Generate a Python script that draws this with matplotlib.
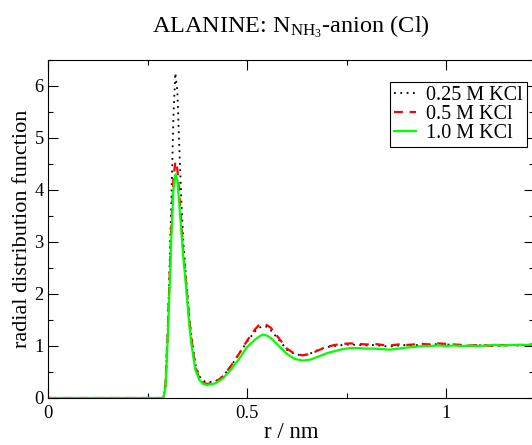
import numpy as np
import matplotlib
matplotlib.use("Agg")
import matplotlib.pyplot as plt
from matplotlib.ticker import MultipleLocator

plt.rcParams['font.family'] = ['Liberation Serif', 'DejaVu Serif']
plt.rcParams['mathtext.fontset'] = 'custom'
plt.rcParams['mathtext.rm'] = 'Liberation Serif'
plt.rcParams['mathtext.it'] = 'Liberation Serif:italic'

# radial distribution functions
r = [0.0, 0.28, 0.29, 0.295, 0.30, 0.305, 0.31, 0.315, 0.32, 0.325, 0.33, 0.335,
     0.34, 0.345, 0.35, 0.355, 0.36, 0.37, 0.38, 0.39, 0.40, 0.42, 0.44, 0.46,
     0.48, 0.50, 0.52, 0.53, 0.54, 0.55, 0.56, 0.58, 0.60, 0.62, 0.64, 0.66,
     0.68, 0.70, 0.72, 0.74, 0.76, 0.78, 0.80, 0.82, 0.84, 0.86, 0.88, 0.90,
     0.92, 0.94, 0.96, 0.98, 1.00, 1.02, 1.04, 1.06, 1.08, 1.10, 1.12, 1.14,
     1.16, 1.18, 1.20, 1.22]

g_025 = [0.0, 0.0, 0.0, 0.25, 1.1, 2.4, 3.8, 5.4, 6.25, 5.9, 4.8, 3.8,
         3.0, 2.5, 2.0, 1.55, 1.2, 0.65, 0.42, 0.33, 0.30, 0.32, 0.42, 0.62,
         0.85, 1.08, 1.28, 1.35, 1.38, 1.37, 1.30, 1.12, 0.93, 0.84, 0.82, 0.86,
         0.93, 0.98, 1.00, 1.02, 1.03, 1.02, 1.01, 1.02, 1.00, 0.99, 1.01, 1.02,
         1.01, 1.03, 1.02, 1.04, 1.03, 1.02, 1.01, 1.00, 1.01, 1.02, 1.00, 1.01,
         1.02, 1.01, 1.02, 1.03]

g_05 = [0.0, 0.0, 0.0, 0.25, 1.1, 2.2, 3.3, 4.2, 4.55, 4.4, 3.9, 3.35,
        2.8, 2.4, 1.95, 1.5, 1.15, 0.6, 0.38, 0.29, 0.27, 0.30, 0.42, 0.62,
        0.85, 1.10, 1.32, 1.40, 1.42, 1.40, 1.35, 1.15, 0.95, 0.85, 0.82, 0.85,
        0.92, 0.98, 1.02, 1.04, 1.05, 1.04, 1.03, 1.04, 1.02, 1.01, 1.03, 1.02,
        1.03, 1.04, 1.03, 1.05, 1.04, 1.03, 1.02, 1.01, 1.02, 1.01, 1.00, 1.02,
        1.01, 1.02, 1.02, 1.03]

g_10 = [0.0, 0.0, 0.0, 0.2, 1.0, 2.0, 3.1, 4.0, 4.3, 4.2, 3.7, 3.2,
        2.7, 2.3, 1.85, 1.4, 1.05, 0.55, 0.35, 0.27, 0.25, 0.28, 0.38, 0.55,
        0.75, 0.98, 1.12, 1.18, 1.22, 1.20, 1.15, 1.00, 0.85, 0.75, 0.72, 0.74,
        0.80, 0.86, 0.90, 0.94, 0.96, 0.96, 0.95, 0.95, 0.94, 0.93, 0.95, 0.97,
        0.98, 1.00, 1.00, 1.01, 1.00, 1.01, 1.00, 1.01, 1.00, 1.01, 1.02, 1.01,
        1.02, 1.02, 1.02, 1.03]

labels = ['0.25 M KCl', '0.5 M KCl', '1.0 M KCl']

fig = plt.figure(figsize=(5.32, 4.45), dpi=100)
ax = fig.add_axes([48 / 532, 47 / 445, 486 / 532, 338 / 445])

ax.plot(r, g_025, color='black', linestyle=(0, (1, 2.5)), linewidth=1.3, label=labels[0])
ax.plot(r, g_05, color='#ff0000', linestyle=(0, (4, 3)), linewidth=1.6, label=labels[1])
ax.plot(r, g_10, color='#00ff00', linestyle='-', linewidth=1.6, label=labels[2])

ax.set_xlim(0, 1.221)
ax.set_ylim(0, 6.5)
ax.xaxis.set_major_locator(MultipleLocator(0.5))
ax.xaxis.set_minor_locator(MultipleLocator(0.25))
ax.yaxis.set_major_locator(MultipleLocator(1))
ax.yaxis.set_minor_locator(MultipleLocator(0.5))
ax.set_xticks([0, 0.5, 1])
ax.set_xticklabels(['0', '0.5', '1'])
ax.tick_params(which='both', direction='in', top=True, right=True, labelsize=13.3, width=0.8)
ax.tick_params(which='major', length=7.2)
ax.tick_params(axis='x', which='major', pad=5)
ax.tick_params(axis='y', which='major', pad=3)
ax.tick_params(which='minor', length=3.6)
for s in ax.spines.values():
    s.set_linewidth(0.8)

ax.set_xlabel('r / nm', fontsize=16.5, labelpad=0)
ax.set_ylabel('radial distribution function', fontsize=16, labelpad=2)
ax.set_title(r'ALANINE: N$_{\mathrm{NH}_3}$-anion (Cl)', fontsize=17.5, pad=20)

leg = ax.legend(loc='upper right', bbox_to_anchor=(527 / 532, 1 - 82 / 445),
                bbox_transform=fig.transFigure, borderaxespad=0, fontsize=14.5,
                handlelength=1.1, handletextpad=0.5, labelspacing=0.0,
                borderpad=0.2, fancybox=False, framealpha=1)
leg.get_frame().set_edgecolor('black')
leg.get_frame().set_linewidth(0.8)

fig.savefig('out.png', dpi=100)
